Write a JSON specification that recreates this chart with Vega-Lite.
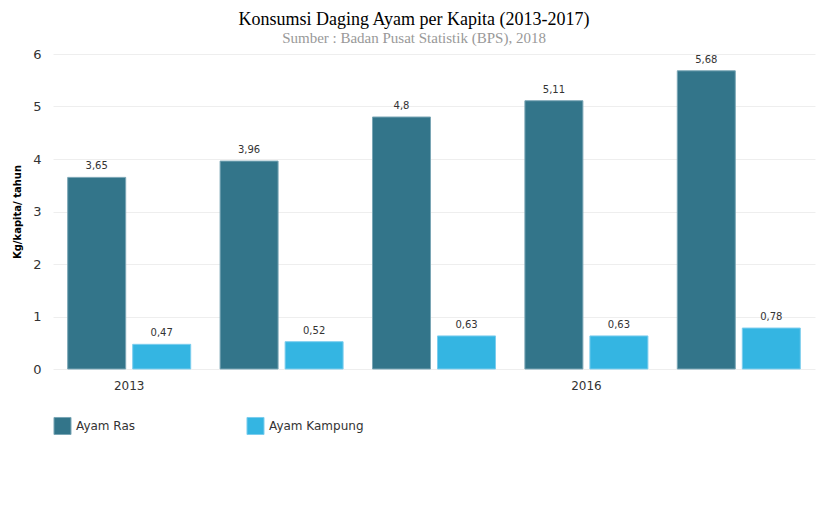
{
  "$schema": "https://vega.github.io/schema/vega-lite/v6.json",
  "width": 762,
  "height": 315,
  "autosize": "none",
  "padding": {"left": 53, "top": 54, "right": 14, "bottom": 152},
  "config": {
    "locale": {"number": {"decimal": ",", "thousands": ".", "grouping": [3], "currency": ["Rp", ""]}},
    "view": {"stroke": null},
    "font": "DejaVu Sans"
  },
  "title": {
    "text": "Konsumsi Daging Ayam per Kapita (2013-2017)",
    "subtitle": "Sumber : Badan Pusat Statistik (BPS), 2018",
    "font": "Liberation Serif",
    "fontSize": 18,
    "fontWeight": "normal",
    "color": "#000000",
    "subtitleFont": "Liberation Serif",
    "subtitleFontSize": 15,
    "subtitleColor": "#999999",
    "subtitlePadding": 2,
    "anchor": "middle",
    "dx": -20,
    "offset": 2
  },
  "data": {
    "values": [
      {"tahun": "2013", "jenis": "Ayam Ras", "nilai": 3.65},
      {"tahun": "2013", "jenis": "Ayam Kampung", "nilai": 0.47},
      {"tahun": "2014", "jenis": "Ayam Ras", "nilai": 3.96},
      {"tahun": "2014", "jenis": "Ayam Kampung", "nilai": 0.52},
      {"tahun": "2015", "jenis": "Ayam Ras", "nilai": 4.8},
      {"tahun": "2015", "jenis": "Ayam Kampung", "nilai": 0.63},
      {"tahun": "2016", "jenis": "Ayam Ras", "nilai": 5.11},
      {"tahun": "2016", "jenis": "Ayam Kampung", "nilai": 0.63},
      {"tahun": "2017", "jenis": "Ayam Ras", "nilai": 5.68},
      {"tahun": "2017", "jenis": "Ayam Kampung", "nilai": 0.78}
    ]
  },
  "encoding": {
    "x": {
      "field": "tahun",
      "type": "nominal",
      "scale": {"paddingInner": 0, "paddingOuter": 0},
      "axis": {
        "title": null,
        "values": ["2013", "2016"],
        "labelAngle": 0,
        "domain": false,
        "ticks": false,
        "labelPadding": 11,
        "labelFontSize": 12,
        "labelColor": "#333333"
      }
    },
    "xOffset": {
      "field": "jenis",
      "type": "nominal",
      "sort": ["Ayam Ras", "Ayam Kampung"],
      "scale": {"paddingInner": 0.108, "paddingOuter": 0.226}
    },
    "y": {
      "field": "nilai",
      "type": "quantitative",
      "scale": {"domain": [0, 6], "nice": false},
      "axis": {
        "title": "Kg/kapita/ tahun",
        "titleFontSize": 10,
        "titleFontWeight": "bold",
        "titleColor": "#000000",
        "titlePadding": 10,
        "values": [0, 1, 2, 3, 4, 5, 6],
        "labelOverlap": false,
        "domain": false,
        "ticks": false,
        "labelPadding": 12,
        "labelFontSize": 13,
        "labelColor": "#333333",
        "gridColor": "#eeeeee",
        "gridWidth": 1
      }
    }
  },
  "layer": [
    {
      "mark": {"type": "bar", "strokeWidth": 1, "fillOpacity": 1},
      "encoding": {
        "color": {
          "field": "jenis",
          "type": "nominal",
          "sort": ["Ayam Ras", "Ayam Kampung"],
          "scale": {"domain": ["Ayam Ras", "Ayam Kampung"], "range": ["#33758a", "#34b5e2"]},
          "legend": {
            "title": null,
            "orient": "none",
            "legendX": 0,
            "legendY": 362,
            "direction": "horizontal",
            "symbolType": "square",
            "symbolSize": 290,
            "symbolStrokeWidth": 1,
            "symbolOpacity": 1,
            "labelFontSize": 12,
            "labelColor": "#333333",
            "labelOffset": 4,
            "columnPadding": 108
          }
        },
        "stroke": {
          "field": "jenis",
          "type": "nominal",
          "scale": {"domain": ["Ayam Ras", "Ayam Kampung"], "range": ["#7aa6b5", "#7ccdee"]},
          "legend": null
        }
      }
    },
    {
      "mark": {"type": "text", "dy": -6, "baseline": "bottom", "fontSize": 10, "color": "#333333"},
      "encoding": {
        "text": {"field": "nilai", "type": "quantitative", "format": ".2~f"}
      }
    }
  ]
}
